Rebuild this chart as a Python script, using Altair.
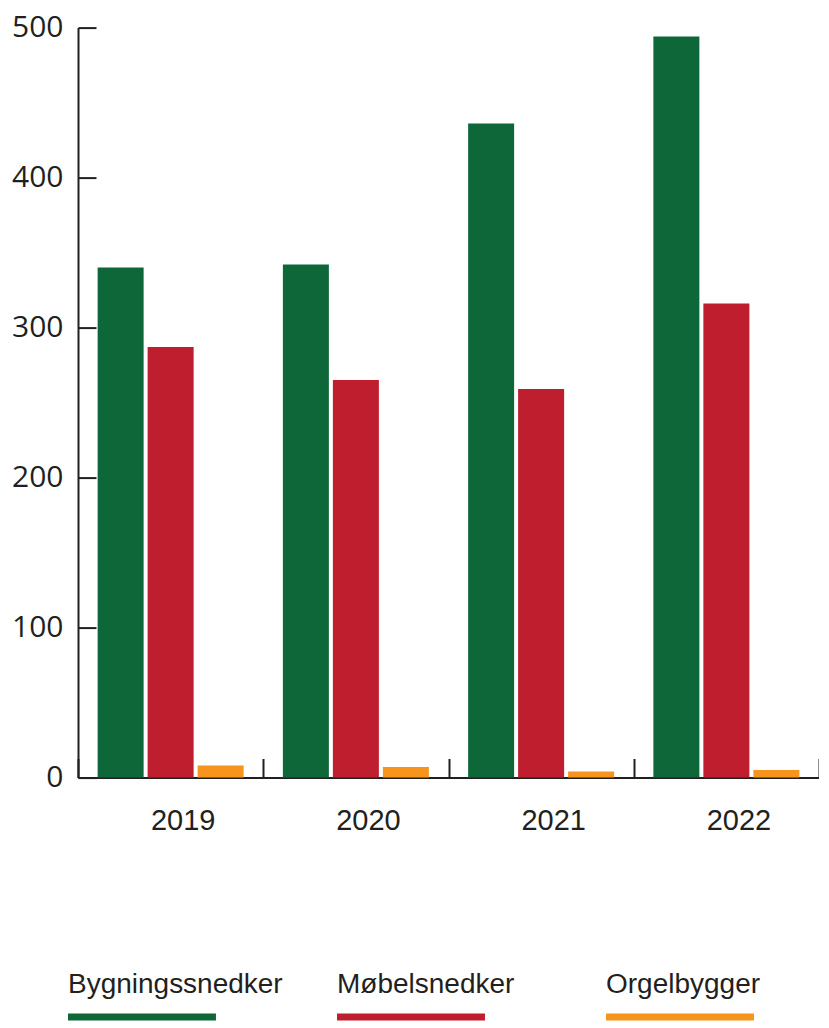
import altair as alt
import pandas as pd

years = ["2019", "2020", "2021", "2022"]
series = ["Bygningssnedker", "Møbelsnedker", "Orgelbygger"]
bygningssnedker = [340, 342, 436, 494]
mobelsnedker = [287, 265, 259, 316]
orgelbygger = [8, 7, 4, 5]
colors = ["#0e6738", "#be1e2d", "#f7941d"]
y_ticks = [0, 100, 200, 300, 400, 500]

rows = []
for i, yr in enumerate(years):
    for s, vals in zip(series, [bygningssnedker, mobelsnedker, orgelbygger]):
        rows.append({"year": yr, "series": s, "value": vals[i]})
df = pd.DataFrame(rows)

ink = "#231f20"
color_scale = alt.Scale(domain=series, range=colors)
W, H = 741, 750

bars = alt.Chart(df).mark_bar().encode(
    x=alt.X(
        "year:N", sort=years, title=None,
        scale=alt.Scale(paddingInner=0, paddingOuter=0),
        axis=alt.Axis(
            tickBand="extent", grid=True, gridDash=[0, H - 19, 19, 2000],
            gridColor=ink, gridWidth=2, gridOpacity=1, ticks=False, tickSize=0,
            labelAngle=0, labelFont="Liberation Sans", labelFontSize=29,
            labelColor=ink, labelPadding=29, labelOffset=12,
            domainColor=ink, domainWidth=2,
        ),
    ),
    xOffset=alt.XOffset("series:N", sort=series,
                        scale=alt.Scale(paddingInner=0.08, paddingOuter=0.3925)),
    y=alt.Y(
        "value:Q", title=None,
        scale=alt.Scale(domain=[0, 500], nice=False, zero=True),
        axis=alt.Axis(
            values=y_ticks, grid=True, gridDash=[18, 2000], gridColor=ink,
            gridWidth=2, gridOpacity=1, ticks=False, tickSize=0,
            labelFont="Open Sans", labelFontSize=30, labelColor=ink,
            labelPadding=15, domainColor=ink, domainWidth=2,
        ),
    ),
    color=alt.Color("series:N", sort=series, scale=color_scale, legend=None),
).properties(width=W, height=H)

leg_df = pd.DataFrame({"series": series})
leg_scale = alt.Scale(paddingInner=0.45, paddingOuter=0)
leg_text = alt.Chart(leg_df).mark_text(
    align="left", baseline="alphabetic", font="Liberation Sans",
    fontSize=28, color=ink, xOffset=-10,
).encode(
    x=alt.X("series:N", sort=series, axis=None, bandPosition=0, scale=leg_scale),
    y=alt.value(22),
    text="series:N",
)
leg_bar = alt.Chart(leg_df).mark_bar(xOffset=-10).encode(
    x=alt.X("series:N", sort=series, axis=None, scale=leg_scale),
    y=alt.value(43),
    y2=alt.value(50),
    color=alt.Color("series:N", sort=series, scale=color_scale, legend=None),
)
legend = alt.layer(leg_text, leg_bar).properties(width=686, height=50)

chart = alt.vconcat(bars, legend, spacing=135).configure(
    padding={"left": 3, "top": 4.6, "right": 0, "bottom": 0}
).configure_view(stroke=None)

chart.save("out.html", embed_options={"renderer": "svg", "actions": False})
